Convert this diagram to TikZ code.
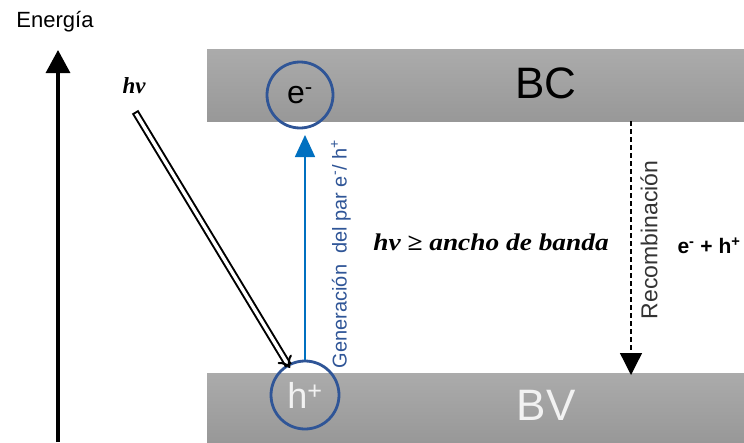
\documentclass[tikz,border=0pt]{standalone}
\usepackage{fontspec}
\setmainfont{Liberation Sans}
\newfontfamily\serifbi{Liberation Serif}
\usetikzlibrary{arrows.meta}
\definecolor{bandtop}{HTML}{ABABAB}
\definecolor{bandbot}{HTML}{989898}
\definecolor{circblue}{HTML}{2F5597}
\definecolor{arrblue}{HTML}{0070C0}
\definecolor{lighttxt}{HTML}{F2F2F2}
\definecolor{darktxt}{HTML}{333333}
\tikzset{
  band/.style={top color=bandtop, bottom color=bandbot, draw=none},
  carrier/.style={circle, draw=circblue, line width=2.8pt, minimum size=66pt, inner sep=0pt},
  fs/.style={font=\fontsize{#1}{#1}\selectfont},
}
\begin{document}
\begin{tikzpicture}[x=1pt,y=-1pt]
\useasboundingbox[fill=white] (0,0) rectangle (744,442);
% bands
\path[band] (207,49) rectangle (744,121);
\path[band] (207,373) rectangle (744,442);
\node[fs=44] (bc) at (546,83) {BC};
\node[fs=44, text=lighttxt] (bv) at (546,405) {BV};
% energy axis
\coordinate (ebot) at (58,442);
\coordinate (etop) at (58,50);
\draw[line width=3.2pt, -{Triangle[width=24pt,length=23pt]}] (ebot) -- (etop);
\node[fs=22] (energia) at (55,22) {Energía};
% carriers
\node[carrier, fs=32] (ecirc) at (300,95) {e\textsuperscript{-}};
\node[carrier, fs=36, text=lighttxt, minimum size=68pt] (hcirc) at (305,395) {h\textsuperscript{+}};
% photon
\node[fs=23] (hv) at (134,86) {\serifbi\bfseries\itshape hv};
\coordinate (phstart) at (137,115);
\coordinate (phend) at (290,368);
\draw[double=white, double distance=3.4pt, line width=2pt, line cap=rect, -{Implies[scale=1.4]}] (phstart) -- (phend);
% generation arrow
\coordinate (gentip) at (305,135);
\draw[arrblue, line width=1.6pt, -{Triangle[width=20pt,length=22pt]}] (hcirc.north) -- (gentip);
\node[fs=20, text=circblue, rotate=90] (gen) at (341,254) {Generación\ \ del par e\textsuperscript{-}/ h\textsuperscript{+}};
% recombination
\coordinate (rtop) at (631,121);
\coordinate (rbot) at (631,375);
\draw[line width=1.3pt, dash pattern=on 5pt off 3pt, -{Triangle[width=22pt,length=22pt]}] (rtop) -- (rbot);
\node[fs=23, text=darktxt, rotate=90] (rec) at (649,240) {Recombinación};
% labels
\node[fs=24] (cond) at (491,242) {\scalebox{1.14}[1]{\serifbi\bfseries\itshape hv ≥ ancho de banda}};
\node[font={\fontsize{21}{21}\selectfont\bfseries}] (pair) at (709,246) {e\textsuperscript{-} + h\textsuperscript{+}};
\end{tikzpicture}
\end{document}
